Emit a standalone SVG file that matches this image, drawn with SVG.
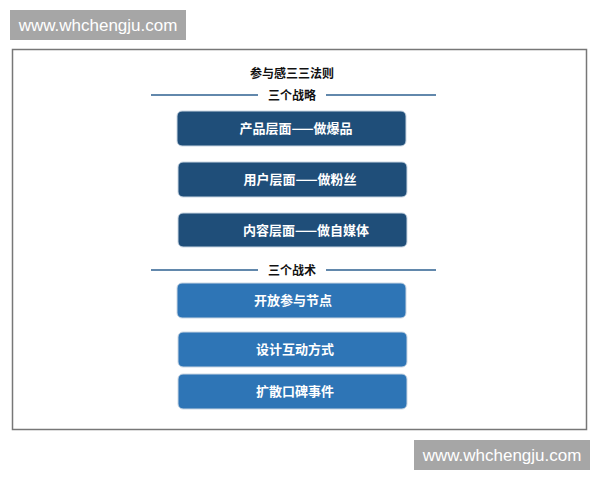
<svg xmlns="http://www.w3.org/2000/svg" width="600" height="480" viewBox="0 0 600 480">
<style>
.wm{fill:#a6a6a6}
.wmt{font-family:"Liberation Sans",Arial,sans-serif;font-size:17px;fill:#ffffff}
.head{font-family:"Noto Sans CJK SC",sans-serif;font-size:12px;font-weight:bold;fill:#111}
.rule{stroke:#2e6190;stroke-width:1.6}
.dark{fill:#1f4e79;stroke:#c9d6e3;stroke-width:1}
.light{fill:#2e75b6;stroke:#c9d6e3;stroke-width:1}
.bt{font-family:"Noto Sans CJK SC",sans-serif;font-size:13px;font-weight:bold;fill:#fff;text-anchor:middle}
</style>
<rect width="600" height="480" fill="#fff"/>
<rect x="10" y="10" width="176" height="30" class="wm"/>
<text x="98" y="31" class="wmt" text-anchor="middle">www.whchengju.com</text>
<rect x="414" y="440" width="176" height="30" class="wm"/>
<text x="502" y="461" class="wmt" text-anchor="middle">www.whchengju.com</text>
<rect x="12.5" y="49.5" width="574" height="380" fill="#fff" stroke="#777" stroke-width="1.5"/>
<text x="292" y="78" class="head" text-anchor="middle">参与感三三法则</text>
<g id="connectors">
<line x1="151" y1="95" x2="258" y2="95" class="rule"/>
<line x1="326" y1="95" x2="436" y2="95" class="rule"/>
<line x1="151" y1="270" x2="258" y2="270" class="rule"/>
<line x1="326" y1="270" x2="436" y2="270" class="rule"/>
</g>
<text x="292" y="100" class="head" text-anchor="middle">三个战略</text>
<text x="292" y="275" class="head" text-anchor="middle">三个战术</text>
<g id="n1"><rect x="177" y="111" width="229" height="35" rx="5" class="dark"/><text x="296" y="133" class="bt">产品层面——做爆品</text></g>
<g id="n2"><rect x="178" y="162" width="229" height="35" rx="5" class="dark"/><text x="300" y="184" class="bt">用户层面——做粉丝</text></g>
<g id="n3"><rect x="178" y="213" width="229" height="34" rx="5" class="dark"/><text x="306" y="235" class="bt">内容层面——做自媒体</text></g>
<g id="n4"><rect x="177" y="283" width="229" height="35" rx="5" class="light"/><text x="293" y="305" class="bt">开放参与节点</text></g>
<g id="n5"><rect x="178" y="332" width="229" height="35" rx="5" class="light"/><text x="295" y="354" class="bt">设计互动方式</text></g>
<g id="n6"><rect x="178" y="374" width="229" height="35" rx="5" class="light"/><text x="295" y="396" class="bt">扩散口碑事件</text></g>
</svg>
